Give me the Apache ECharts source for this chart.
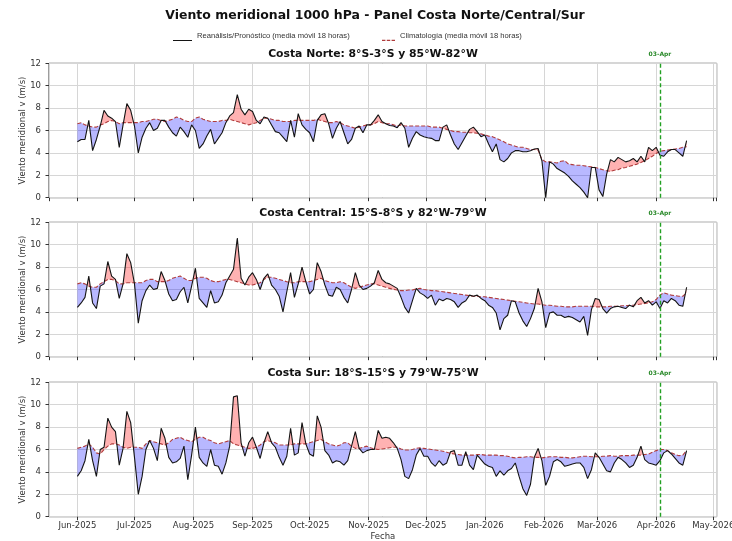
<!DOCTYPE html>
<html><head><meta charset="utf-8">
<script src="https://cdn.jsdelivr.net/npm/echarts@6/dist/echarts.min.js"></script>
<style>html,body{margin:0;padding:0;background:#fff}#c{width:732px;height:541px}</style>
</head><body><div id="c"></div>
<script>
// ---------------- texts ----------------
const mainTitle = 'Viento meridional 1000 hPa - Panel Costa Norte/Central/Sur';
const panelTitles = ['Costa Norte: 8°S-3°S y 85°W-82°W', 'Costa Central: 15°S-8°S y 82°W-79°W', 'Costa Sur: 18°S-15°S y 79°W-75°W'];
const OBS_NAME = 'Reanálisis/Pronóstico (media móvil 18 horas)';
const CLIM_NAME = 'Climatología (media móvil 18 horas)';
const yAxisName = 'Viento meridional v (m/s)';
const xAxisName = 'Fecha';
const markerLabel = '03-Apr';
const tickLabels = ['Jun-2025','Jul-2025','Aug-2025','Sep-2025','Oct-2025','Nov-2025','Dec-2025','Jan-2026','Feb-2026','Mar-2026','Apr-2026','May-2026'];

// ---------------- sampling (every 2 days from 1 Jun 2025) ----------------
const startDate = [2025, 5, 1];
const stepDays = 2;
const markerDate = [2026, 3, 3];

// ---------------- data ----------------
const norteObs = [
5.0,5.2,5.2,6.9,4.2,5.2,6.4,7.8,7.3,7.1,
6.8,4.5,6.5,8.4,7.8,6.4,4.0,5.4,6.2,6.7,
6.0,6.2,6.9,6.9,6.3,5.8,5.5,6.3,5.9,5.4,
6.5,6.0,4.4,4.8,5.5,6.1,4.8,5.3,5.8,6.7,
7.3,7.6,9.2,7.9,7.4,7.9,7.7,6.9,6.6,7.2,
7.1,6.5,5.9,5.8,5.4,5.0,6.9,5.4,7.5,6.5,
6.1,5.8,5.0,6.9,7.4,7.5,6.6,5.3,6.2,6.8,
5.8,4.8,5.2,6.2,6.4,5.8,6.5,6.5,6.9,7.4,
6.8,6.6,6.45,6.4,6.25,6.7,6.2,4.5,5.3,5.9,
5.6,5.45,5.35,5.3,5.1,5.1,6.3,6.5,5.6,4.8,
4.3,4.9,5.5,6.1,6.3,5.9,5.45,5.6,4.8,4.1,
4.8,3.4,3.2,3.5,4.0,4.2,4.2,4.1,4.1,4.2,
4.35,4.4,3.3,0.0,3.2,3.0,2.6,2.4,2.2,1.9,
1.5,1.2,0.9,0.5,0.0,2.7,2.7,0.7,0.1,2.1,
3.4,3.2,3.6,3.4,3.2,3.3,3.5,3.2,3.7,3.2,
4.5,4.2,4.5,3.8,3.7,4.1,4.3,4.3,4.0,3.7,
5.1];
const norteClim = [
6.6,6.7,6.5,6.4,6.3,6.3,6.5,6.6,6.8,6.9,
6.8,6.6,6.7,6.7,6.7,6.7,6.7,6.8,6.8,6.9,
7.0,7.0,6.9,6.8,6.9,7.0,7.2,7.1,6.9,6.8,
6.8,7.1,7.2,7.0,6.9,6.8,6.8,6.8,6.9,6.9,
7.0,6.9,6.8,6.7,6.6,6.5,6.6,6.7,6.9,7.1,
7.1,7.0,6.9,6.9,6.8,6.8,6.8,6.9,6.9,6.9,
6.9,6.9,6.9,7.0,6.9,6.8,6.7,6.7,6.8,6.7,
6.5,6.4,6.3,6.2,6.3,6.4,6.5,6.5,6.6,6.8,
6.7,6.6,6.6,6.5,6.4,6.5,6.4,6.4,6.4,6.4,
6.4,6.4,6.4,6.3,6.3,6.3,6.2,6.1,6.0,5.9,
5.9,5.85,5.85,5.8,5.8,5.75,5.7,5.6,5.5,5.45,
5.3,5.15,5.0,4.8,4.7,4.6,4.5,4.5,4.4,4.3,
4.3,4.25,3.4,3.2,3.2,3.15,3.1,3.25,3.3,3.0,
2.95,2.9,2.9,2.85,2.8,2.75,2.7,2.6,2.5,2.4,
2.35,2.45,2.5,2.65,2.7,2.8,2.9,3.0,3.15,3.3,
3.5,3.7,3.95,4.15,4.2,4.25,4.3,4.35,4.4,4.5,
4.55];
const centralObs = [
4.4,4.8,5.3,7.2,4.8,4.3,6.3,6.5,8.5,7.2,
6.9,5.2,6.5,9.2,8.4,6.5,3.0,5.0,5.9,6.4,
6.0,6.1,7.6,6.8,5.6,5.0,5.1,5.8,6.2,4.8,
6.3,7.9,5.2,4.8,4.4,5.9,4.8,4.9,5.5,6.6,
7.2,7.8,10.6,7.0,6.4,7.1,7.5,6.9,6.0,7.0,
7.4,6.4,6.0,5.4,4.0,5.8,7.5,5.3,6.5,8.0,
6.7,5.6,6.0,8.4,7.6,6.4,5.5,5.4,6.2,6.0,
5.3,4.8,6.0,7.5,6.4,6.0,6.1,6.3,6.6,7.7,
6.9,6.6,6.5,6.3,6.1,5.3,4.4,3.9,5.0,6.1,
5.7,5.5,5.2,5.5,4.6,5.15,5.0,5.2,5.1,4.9,
4.4,4.8,5.0,5.5,5.4,5.5,5.2,5.0,4.6,4.4,
3.9,2.4,3.4,3.7,5.0,4.9,3.9,3.2,2.7,3.4,
4.3,6.1,4.9,2.6,3.9,4.0,3.7,3.7,3.5,3.6,
3.5,3.3,3.1,3.6,1.9,4.2,5.2,5.1,4.3,3.9,
4.3,4.45,4.5,4.4,4.3,4.6,4.45,5.0,5.3,4.8,
5.0,4.6,4.9,4.3,5.0,4.8,5.2,5.0,4.6,4.5,
6.2];
const centralClim = [
6.5,6.6,6.5,6.3,6.2,6.2,6.5,6.7,6.9,6.9,
6.8,6.5,6.5,6.6,6.6,6.6,6.6,6.6,6.8,6.9,
6.9,6.7,6.7,6.7,6.8,7.0,7.1,7.2,7.0,6.8,
6.8,7.0,7.1,7.1,7.0,6.8,6.7,6.7,6.8,6.9,
6.9,6.8,6.7,6.6,6.5,6.4,6.4,6.5,6.6,6.9,
7.1,7.1,7.0,6.9,6.8,6.7,6.6,6.6,6.7,6.7,
6.7,6.7,6.8,6.9,7.0,6.8,6.7,6.6,6.6,6.7,
6.6,6.4,6.2,6.1,6.2,6.3,6.4,6.5,6.5,6.4,
6.3,6.2,6.1,6.0,5.95,5.9,5.9,5.95,5.95,6.05,
6.1,6.0,5.95,5.9,5.9,5.85,5.8,5.75,5.7,5.65,
5.6,5.55,5.5,5.45,5.4,5.4,5.35,5.35,5.3,5.25,
5.2,5.15,5.1,5.05,5.0,4.95,4.9,4.85,4.8,4.75,
4.7,4.7,4.65,4.6,4.6,4.55,4.5,4.5,4.45,4.45,
4.45,4.5,4.5,4.5,4.5,4.5,4.45,4.45,4.45,4.45,
4.5,4.5,4.5,4.55,4.55,4.6,4.6,4.65,4.7,4.75,
4.8,4.9,5.1,5.5,5.7,5.6,5.5,5.45,5.4,5.4,
5.7];
const surObs = [
3.6,4.1,5.0,6.9,5.0,3.6,6.0,6.2,8.8,8.0,
7.6,4.6,6.1,9.4,8.4,5.3,2.0,3.6,6.0,6.8,
6.1,5.0,7.9,7.0,5.3,4.8,4.9,5.2,6.3,3.3,
5.5,8.0,5.3,4.8,4.5,6.0,4.6,4.5,3.8,4.8,
6.3,10.7,10.8,6.6,5.4,6.6,7.1,6.2,5.2,6.6,
7.6,6.6,6.2,5.3,4.6,5.4,7.9,5.5,5.7,8.4,
6.5,5.6,5.4,9.0,8.0,5.9,5.5,4.8,5.0,4.9,
4.6,5.0,6.3,7.6,6.1,5.7,5.9,6.0,6.0,7.7,
7.0,7.1,7.0,6.6,6.1,5.1,3.6,3.4,4.2,5.5,
6.1,5.4,5.4,4.8,4.5,5.0,4.6,4.8,5.8,5.9,
4.6,4.6,5.8,4.6,4.2,5.5,5.1,4.7,4.5,4.4,
3.6,4.1,3.7,4.1,4.3,4.8,3.6,2.5,1.9,2.9,
5.3,6.1,5.0,2.8,3.6,4.9,5.1,4.9,4.5,4.6,
4.7,4.8,4.8,4.4,3.4,4.2,5.7,5.3,4.7,4.1,
4.0,4.8,5.3,5.1,4.8,4.4,4.6,5.3,6.3,5.1,
4.8,4.7,4.6,5.0,5.7,5.9,5.6,5.2,4.8,4.6,
5.9];
const surClim = [
6.1,6.2,6.3,6.5,6.2,5.7,5.6,6.0,6.3,6.5,
6.5,6.4,6.2,6.1,6.2,6.2,6.2,6.1,6.5,6.8,
6.7,6.6,6.5,6.4,6.6,6.9,7.0,7.1,6.9,6.8,
6.7,6.9,7.1,7.1,6.9,6.8,6.6,6.5,6.6,6.7,
6.8,6.5,6.4,6.3,6.2,6.1,6.1,6.2,6.4,6.7,
6.8,6.7,6.6,6.4,6.4,6.4,6.4,6.5,6.5,6.5,
6.5,6.6,6.7,6.8,6.9,6.7,6.5,6.4,6.3,6.4,
6.6,6.6,6.3,6.1,6.1,6.2,6.3,6.15,6.05,6.0,
6.05,6.1,6.15,6.2,6.2,6.05,5.95,5.95,6.0,6.1,
6.15,6.1,6.05,6.0,5.95,5.9,5.85,5.75,5.65,5.6,
5.55,5.5,5.5,5.5,5.5,5.55,5.55,5.5,5.5,5.5,
5.5,5.45,5.45,5.4,5.3,5.25,5.3,5.3,5.35,5.35,
5.3,5.3,5.25,5.3,5.35,5.35,5.35,5.3,5.3,5.25,
5.25,5.3,5.35,5.4,5.4,5.35,5.35,5.35,5.4,5.4,
5.45,5.4,5.4,5.45,5.45,5.45,5.5,5.5,5.5,5.55,
5.6,5.75,5.9,6.0,6.0,5.9,5.7,5.55,5.45,5.5,
5.9];

const panels = [
  {title: panelTitles[0], obs: norteObs, clim: norteClim},
  {title: panelTitles[1], obs: centralObs, clim: centralClim},
  {title: panelTitles[2], obs: surObs, clim: surClim}
];

// ---------------- layout / style ----------------
const DAY = 86400000;
const t0 = new Date(startDate[0], startDate[1], startDate[2]).getTime();
const X_MIN = t0 - 14.9 * DAY, X_MAX = t0 + 335.8 * DAY;
const markerTime = new Date(markerDate[0], markerDate[1], markerDate[2]).getTime();
const PLOT_LEFT = 49, PLOT_RIGHT_GAP = 732 - 716.7;
const panelTops = [63.3, 222.3, 382.3], PANEL_H = 134.4;
const FONT = 'DejaVu Sans';
const LEGEND_FONT = 'Liberation Sans';
const RED_FILL = 'rgba(255,0,0,0.30)', BLUE_FILL = 'rgba(0,0,255,0.28)';
const OBS_COLOR = '#141414', CLIM_COLOR = '#b03c3c', GREEN = '#22a022';

const mctx = document.createElement('canvas').getContext('2d');
function textWidth(text, weight, size, family) {
  mctx.font = weight + ' ' + size + 'px "' + family + '"';
  return mctx.measureText(text).width;
}
const titleSize = Math.min(13, 12 * 420 / textWidth(mainTitle, 'bold', 12, FONT));
const panelTitleSize = Math.min(11.5, 10 * 210 / textWidth(panelTitles[0], 'bold', 10, FONT));
const legendSize = Math.min(8.5, 8 * 153 / textWidth(OBS_NAME, 'normal', 8, LEGEND_FONT));
// legend: first icon starts at 173, second icon box starts at 376 (dashes drawn at its right part)
const LEG_W = 19;
const legendGap = 376 - (173 + LEG_W + 5 + textWidth(OBS_NAME, 'normal', legendSize, LEGEND_FONT));

const times = norteObs.map((_, k) => new Date(startDate[0], startDate[1], startDate[2] + stepDays * k).getTime());

function monthLabel(v) {
  const d = new Date(v);
  if (d.getDate() !== 1 || d.getHours() !== 0 || d.getMinutes() !== 0) return '';
  const idx = (d.getFullYear() - 2025) * 12 + d.getMonth() - 5;
  return tickLabels[idx] || '';
}

// polygons between obs and clim, split where they cross
function buildRuns(obs, clim) {
  const runs = [];
  let cur = null, prev = null;
  for (let i = 0; i < obs.length; i++) {
    const t = times[i], d = obs[i] - clim[i], s = d >= 0 ? 1 : -1;
    if (!cur) { cur = {sign: s, top: [[t, obs[i]]], bot: [[t, clim[i]]]}; }
    else if (s !== cur.sign) {
      const f = prev.d / (prev.d - d);
      const tc = prev.t + f * (t - prev.t), yc = prev.o + f * (obs[i] - prev.o);
      cur.top.push([tc, yc]); cur.bot.push([tc, yc]); runs.push(cur);
      cur = {sign: s, top: [[tc, yc], [t, obs[i]]], bot: [[tc, yc], [t, clim[i]]]};
    } else { cur.top.push([t, obs[i]]); cur.bot.push([t, clim[i]]); }
    prev = {t: t, d: d, o: obs[i]};
  }
  runs.push(cur);
  return runs.map(r => ({sign: r.sign, poly: r.top.concat(r.bot.slice().reverse())}));
}

const grids = [], xAxes = [], yAxes = [], series = [], titles = [];
titles.push({text: mainTitle, left: 375, top: 16.5 - titleSize * 0.55, textAlign: 'center', padding: 0,
  textStyle: {fontFamily: FONT, fontWeight: 'bold', fontSize: titleSize, color: '#111'}});

panels.forEach((p, i) => {
  grids.push({left: PLOT_LEFT, right: PLOT_RIGHT_GAP, top: panelTops[i], height: PANEL_H,
    show: true, borderColor: '#3a3a3a', borderWidth: 1, backgroundColor: 'transparent', outerBoundsMode: 'none', containLabel: false});
  titles.push({text: p.title, left: 373, top: panelTops[i] - 9 - panelTitleSize * 0.55, textAlign: 'center', padding: 0,
    textStyle: {fontFamily: FONT, fontWeight: 'bold', fontSize: panelTitleSize, color: '#111'}});
  xAxes.push({
    type: 'time', gridIndex: i, min: X_MIN, max: X_MAX, splitNumber: 12,
    axisLine: {show: false},
    axisTick: {show: true, length: 3.5, lineStyle: {color: '#333'}},
    axisLabel: {show: i === 2, fontFamily: FONT, fontSize: 8.5, color: '#333', margin: 5,
      hideOverlap: false, formatter: monthLabel},
    splitLine: {show: true, lineStyle: {color: '#d6d6d6', width: 1}},
    name: i === 2 ? xAxisName : '', nameLocation: 'middle', nameGap: 16, nameMoveOverlap: false,
    nameTextStyle: {fontFamily: FONT, fontSize: 8.5, color: '#333'}
  });
  yAxes.push({
    type: 'value', gridIndex: i, min: 0, max: 12, interval: 2,
    axisLine: {show: false},
    axisTick: {show: true, length: 3.5, lineStyle: {color: '#333'}},
    axisLabel: {fontFamily: FONT, fontSize: 8.5, color: '#333', margin: 8},
    splitLine: {show: true, lineStyle: {color: '#d6d6d6', width: 1}},
    name: yAxisName, nameLocation: 'middle', nameGap: 22, nameRotate: 90, nameMoveOverlap: false,
    nameTextStyle: {fontFamily: FONT, fontSize: 8.5, color: '#333'}
  });
  const runs = buildRuns(p.obs, p.clim);
  series.push({
    type: 'custom', xAxisIndex: i, yAxisIndex: i, z: 1, silent: true, clip: true,
    data: runs.map((r, j) => [r.poly[0][0], r.poly[0][1], j]),
    encode: {x: 0, y: 1},
    renderItem: function (params, api) {
      const r = runs[params.dataIndex];
      return {type: 'polygon', shape: {points: r.poly.map(pt => api.coord(pt))},
        style: {fill: r.sign > 0 ? RED_FILL : BLUE_FILL}};
    }
  });
  series.push({
    type: 'line', name: CLIM_NAME, xAxisIndex: i, yAxisIndex: i, z: 2,
    data: times.map((t, k) => [t, p.clim[k]]), showSymbol: false, symbol: 'none',
    lineStyle: {color: CLIM_COLOR, width: 1.1, type: [4, 2]}, itemStyle: {color: CLIM_COLOR}
  });
  series.push({
    type: 'line', name: OBS_NAME, xAxisIndex: i, yAxisIndex: i, z: 3,
    data: times.map((t, k) => [t, p.obs[k]]), showSymbol: false, symbol: 'none',
    lineStyle: {color: OBS_COLOR, width: 1.1}, itemStyle: {color: OBS_COLOR},
    markLine: {
      silent: true, symbol: 'none', animation: false,
      lineStyle: {color: GREEN, width: 1.4, type: [4, 2.5]},
      label: {show: true, position: 'end', formatter: markerLabel, color: '#2a8a2a',
        fontFamily: FONT, fontWeight: 'bold', fontSize: 6, distance: 6},
      data: [{xAxis: markerTime}]
    }
  });
});

const chart = echarts.init(document.getElementById('c'), null, {renderer: 'canvas'});
chart.setOption({
  animation: false,
  backgroundColor: '#fff',
  textStyle: {fontFamily: FONT},
  title: titles,
  legend: {
    left: 173, top: 31, padding: 0, itemGap: legendGap, itemWidth: LEG_W, itemHeight: 10,
    itemStyle: {borderWidth: 0},
    textStyle: {fontFamily: LEGEND_FONT, fontSize: legendSize, color: '#333'},
    data: [
      {name: OBS_NAME, icon: 'path://M0,0L0.001,0M0,8.9L19,8.9L19,10L0,10Z', itemStyle: {color: OBS_COLOR}},
      {name: CLIM_NAME, icon: 'path://M0,0L0.001,0M6,8.8L9.4,8.8L9.4,10L6,10ZM10.8,8.8L14.2,8.8L14.2,10L10.8,10ZM15.6,8.8L19,8.8L19,10L15.6,10Z', itemStyle: {color: CLIM_COLOR}}
    ]
  },
  grid: grids, xAxis: xAxes, yAxis: yAxes, series: series
});
</script>
</body></html>
